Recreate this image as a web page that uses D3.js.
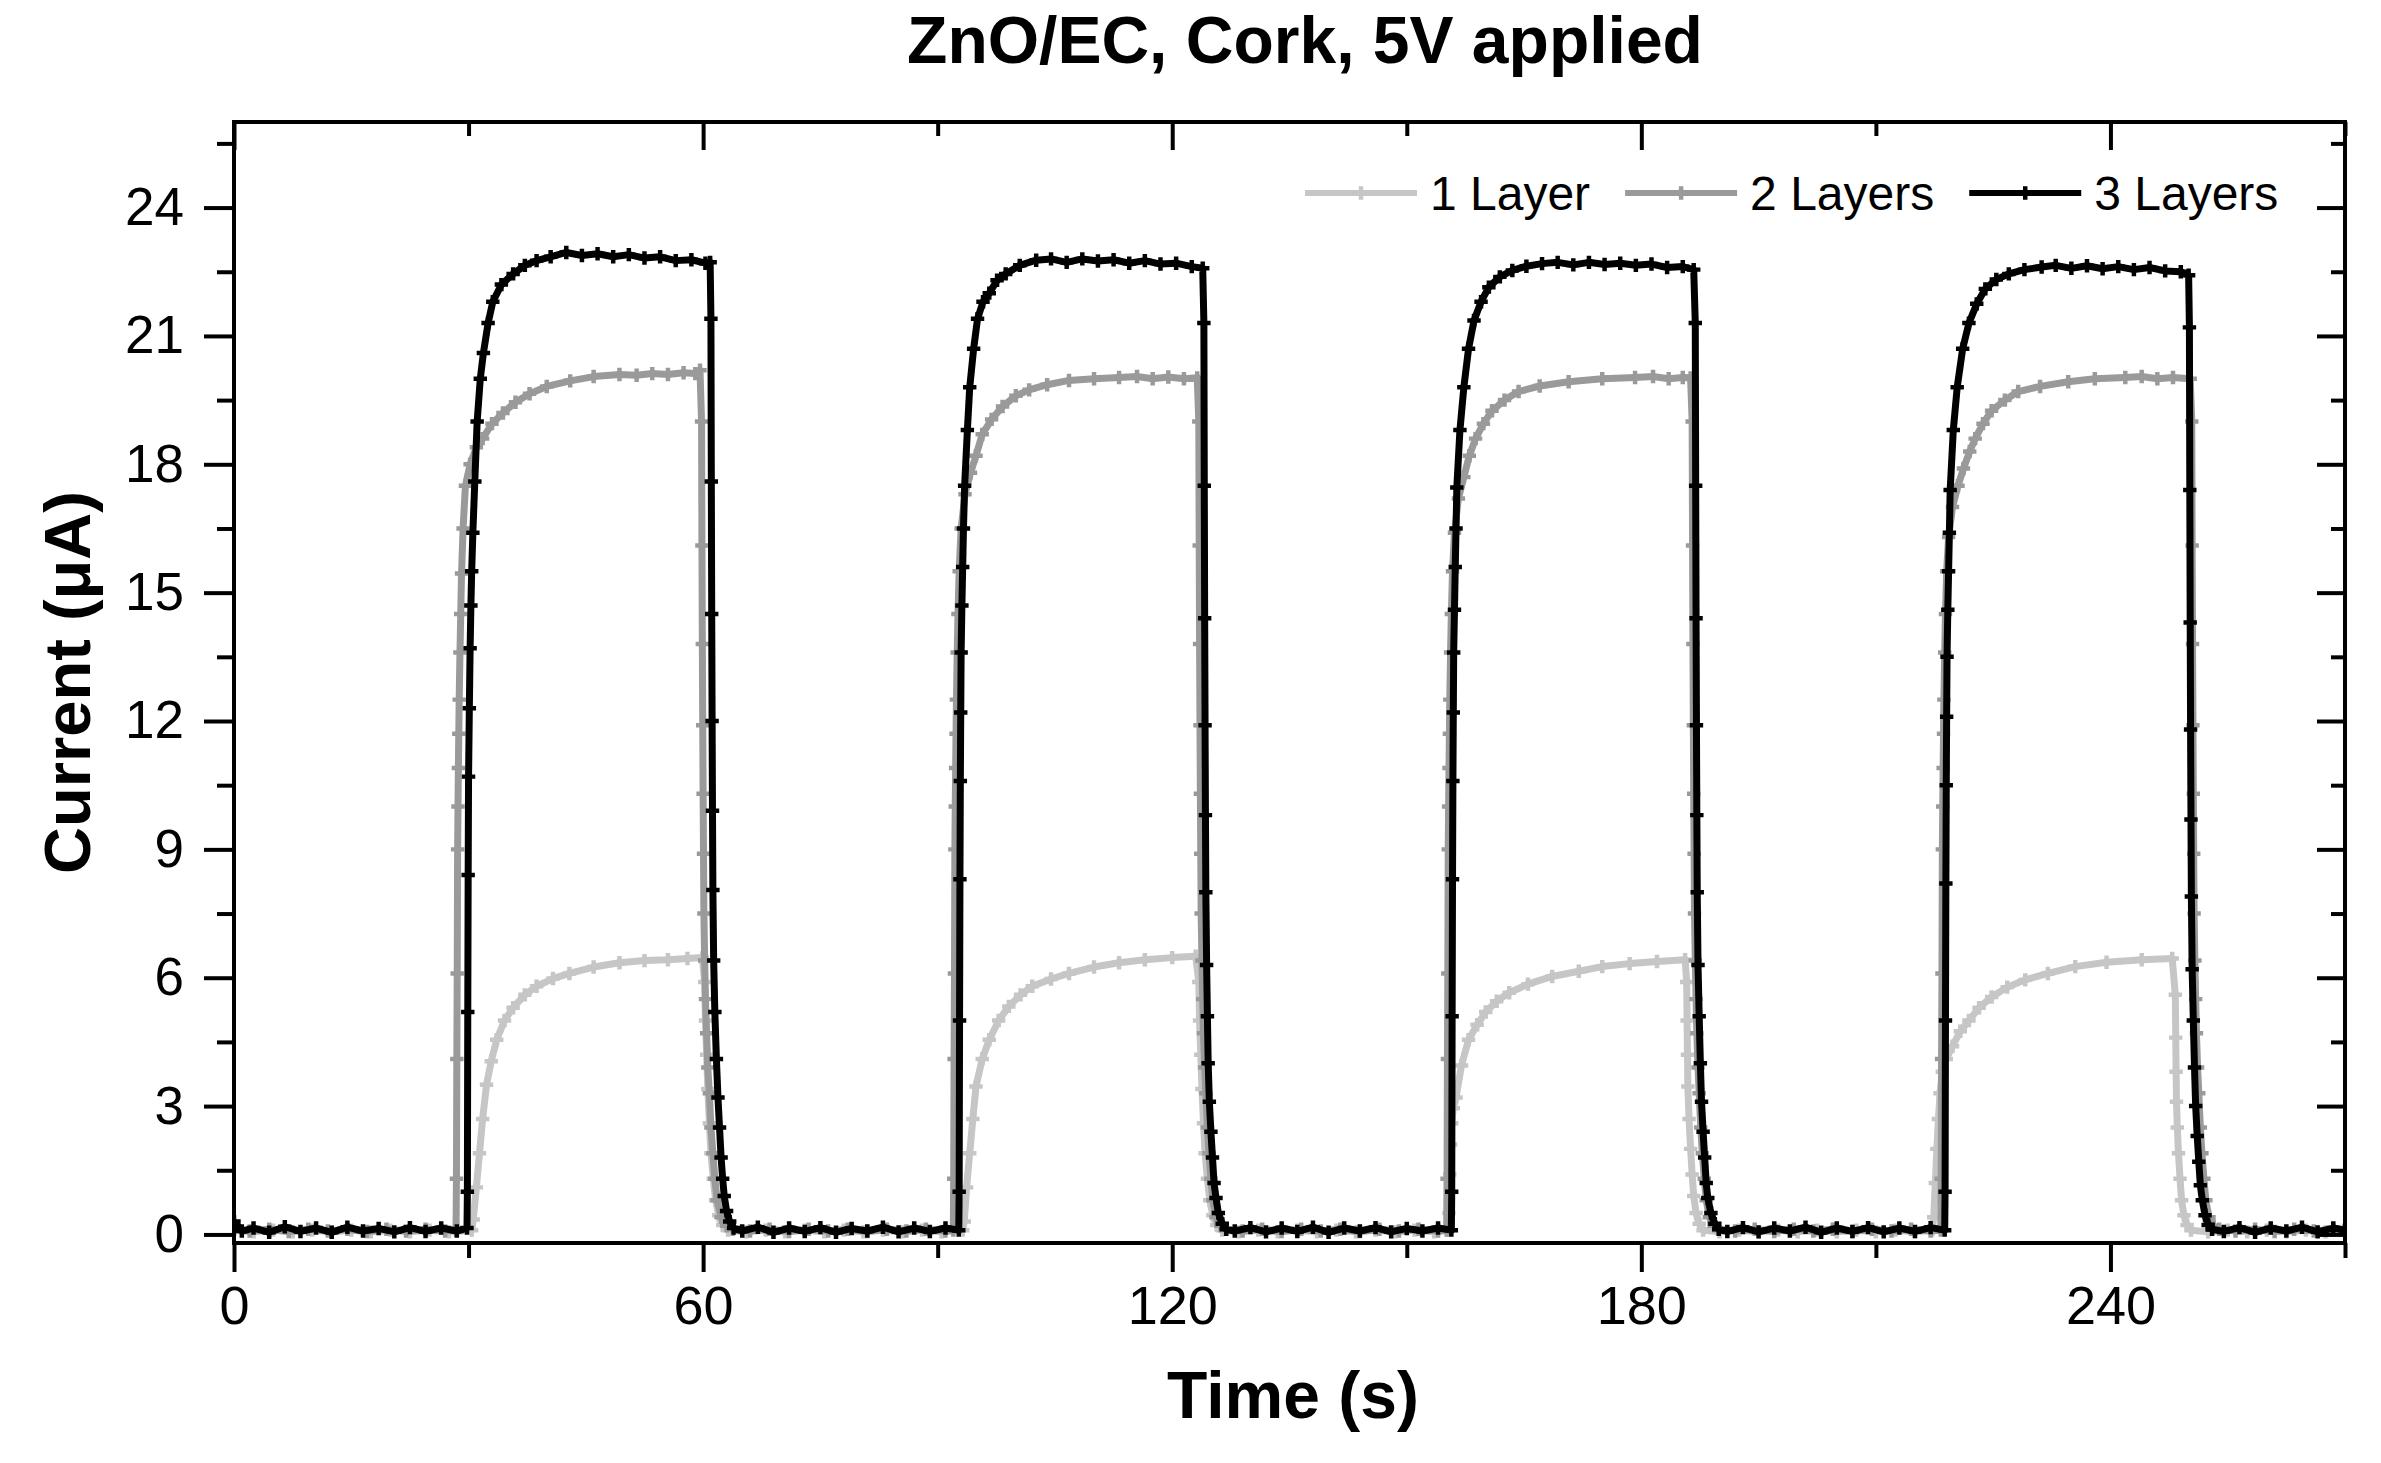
<!DOCTYPE html>
<html>
<head>
<meta charset="utf-8">
<script src="https://cdn.jsdelivr.net/npm/d3@7"></script>
<style>
  body { margin: 0; background: #fff; }
  text { font-family: "Liberation Sans", Arial, sans-serif; fill: #000; }
</style>
</head>
<body>
<script>
// Series names as in the legend
const seriesNames = ["1 Layer", "2 Layers", "3 Layers"];
const seriesColors = ["#c6c6c6", "#9a9a9a", "#000000"];

const xTicks = [0, 60, 120, 180, 240];
const yTicks = [0, 3, 6, 9, 12, 15, 18, 21, 24];

// [time (s), current (uA)]
const oneLayer = [
  [0,0.1],[2.5,0.06],[5,0.1],[7.5,0.06],[10,0.1],[12.5,0.06],[15,0.1],[17.5,0.06],[20,0.1],[22.5,0.06],[25,0.1],[27.5,0.06],[30.4,0.1],
  [30.6,0.35],[31.0,1.1],[31.4,1.9],[31.8,2.7],[32.3,3.5],[32.9,4.05],[33.6,4.55],[34.6,5.0],[35.7,5.3],[37.2,5.6],[38.7,5.8],[40.8,5.98],[42.9,6.1],[46,6.25],[49.3,6.35],[52.5,6.4],[55.5,6.42],[58,6.45],[59.9,6.47],
  [60.2,5.9],[60.3,5.0],[60.45,4.2],[60.6,3.4],[60.8,2.6],[61.0,1.9],[61.3,1.3],[61.6,0.8],[62.0,0.45],[62.5,0.22],[63.2,0.1],
  [65.5,0.06],[68,0.1],[70.5,0.06],[73,0.1],[75.5,0.06],[78,0.1],[80.5,0.06],[83,0.1],[85.5,0.06],[88,0.1],[90.5,0.06],[93.2,0.1],
  [93.4,0.3],[93.7,1.1],[94.1,1.9],[94.5,2.7],[94.9,3.46],[95.7,4.1],[96.6,4.55],[97.8,5.0],[99.1,5.33],[100.6,5.6],[102.1,5.8],[104.5,5.97],[106.8,6.1],[110,6.25],[113.2,6.35],[116.5,6.42],[120,6.47],[123.0,6.5],
  [123.4,5.9],[123.5,5.0],[123.65,4.2],[123.8,3.4],[124.0,2.6],[124.2,1.9],[124.5,1.3],[124.8,0.8],[125.2,0.45],[125.7,0.22],[126.4,0.1],
  [128.5,0.06],[131,0.1],[133.5,0.06],[136,0.1],[138.5,0.06],[141,0.1],[143.5,0.06],[146,0.1],[148.5,0.06],[151,0.1],[153.5,0.06],[155.3,0.1],
  [155.4,0.5],[155.5,1.4],[155.6,2.1],[155.75,2.6],[155.95,2.95],[156.3,3.2],[157.0,3.95],[157.9,4.55],[159.0,4.9],[160.1,5.2],[161.5,5.45],[163.1,5.65],[165.5,5.85],[168.6,6.03],[172,6.15],[175.0,6.26],[178.5,6.33],[182,6.38],[185.6,6.42],
  [185.8,5.9],[185.85,5.0],[185.9,4.2],[185.95,3.46],[186.1,2.7],[186.3,2.0],[186.5,1.4],[186.7,0.9],[187.0,0.5],[187.4,0.25],[187.9,0.1],
  [190,0.06],[192.5,0.1],[195,0.06],[197.5,0.1],[200,0.06],[202.5,0.1],[205,0.06],[207.5,0.1],[210,0.06],[212.5,0.1],[215,0.06],[217.2,0.1],
  [217.4,0.4],[217.6,1.2],[217.8,2.0],[218.0,2.7],[218.2,3.3],[218.5,3.8],[219.0,4.1],[219.8,4.4],[220.8,4.75],[221.9,5.0],[223.2,5.3],[224.8,5.55],[226.8,5.78],[229.1,5.95],[232,6.1],[235.5,6.26],[239.5,6.36],[244.0,6.42],[247.9,6.45],
  [248.3,5.6],[248.35,4.6],[248.4,3.8],[248.45,3.1],[248.55,2.5],[248.7,1.9],[248.9,1.3],[249.1,0.8],[249.4,0.45],[249.8,0.22],[250.3,0.1],
  [252.5,0.06],[255,0.1],[257.5,0.06],[260,0.1],[262.5,0.06],[265,0.1],[267.5,0.06],[270,0.1]
];

const twoLayers = [
  [0,0.12],[2,0.08],[4.5,0.12],[7,0.07],[9.5,0.12],[12,0.08],[14.5,0.12],[17,0.07],[19.5,0.12],[22,0.08],[24.5,0.12],[27,0.08],[28.4,0.1],
  [28.45,1.3],[28.5,4.1],[28.55,6.1],[28.6,9.0],[28.65,10.0],[28.7,10.9],[28.75,11.7],[28.8,12.5],[28.9,13.6],[29.0,14.5],[29.1,15.45],[29.3,16.5],[29.6,17.5],[30.2,18.0],[31.0,18.4],[31.8,18.6],[33.0,18.95],[34.4,19.2],[36,19.45],[37.8,19.65],[40,19.82],[43,19.95],[46,20.05],[49.3,20.1],
  [51.5,20.08],[53.5,20.12],[55.5,20.1],[57.5,20.14],[59.0,20.12],[59.6,20.2],
  [59.8,19.0],[59.85,16.1],[59.9,13.8],[59.95,11.9],[60.0,10.3],[60.05,8.9],[60.1,7.5],[60.2,6.4],[60.3,5.5],[60.45,4.7],[60.6,3.9],[60.8,3.3],[61.0,2.5],[61.25,1.9],[61.5,1.3],[61.8,0.8],[62.3,0.4],[63.0,0.2],[63.8,0.12],
  [66,0.08],[68.5,0.12],[71,0.07],[73.5,0.12],[76,0.08],[78.5,0.12],[81,0.07],[83.5,0.12],[86,0.08],[88.5,0.12],[91,0.08],[92.0,0.1],
  [92.05,1.3],[92.1,4.1],[92.15,6.1],[92.2,9.0],[92.25,10.0],[92.3,10.9],[92.35,11.7],[92.4,12.5],[92.5,13.6],[92.6,14.5],[92.75,15.5],[93.0,16.5],[93.5,17.3],[94.2,17.8],[94.9,18.2],[95.7,18.7],[96.9,19.05],[98.3,19.35],[100,19.6],[101.7,19.74],[104,19.86],[106.8,19.96],[110,20.0],[113.2,20.03],
  [115.5,20.05],[117.5,20.0],[119.5,20.04],[121.5,20.0],[123.2,20.02],
  [123.4,19.0],[123.45,16.1],[123.5,13.8],[123.55,11.9],[123.6,10.3],[123.65,8.9],[123.7,7.5],[123.8,6.4],[123.9,5.5],[124.0,4.7],[124.15,3.9],[124.3,3.3],[124.5,2.5],[124.7,1.9],[124.95,1.3],[125.2,0.8],[125.6,0.4],[126.2,0.2],[126.9,0.12],
  [129,0.08],[131.5,0.12],[134,0.07],[136.5,0.12],[139,0.08],[141.5,0.12],[144,0.07],[146.5,0.12],[149,0.08],[151.5,0.12],[154,0.08],[155.1,0.1],
  [155.15,1.3],[155.2,4.1],[155.25,6.1],[155.3,9.0],[155.35,10.0],[155.4,10.9],[155.45,11.7],[155.5,12.5],[155.6,13.6],[155.7,14.5],[155.85,15.5],[156.1,16.4],[156.6,17.2],[157.3,17.7],[158.0,18.2],[158.8,18.6],[159.8,18.95],[160.9,19.25],[162.5,19.5],[164.3,19.7],[167,19.83],[170.7,19.93],[175,20.0],[179.2,20.03],
  [181.5,20.05],[183.5,20.0],[185.3,20.03],[186.3,20.02],
  [186.5,19.0],[186.55,16.1],[186.6,13.8],[186.65,11.9],[186.7,10.3],[186.75,8.9],[186.8,7.5],[186.9,6.4],[187.0,5.5],[187.1,4.7],[187.25,3.9],[187.4,3.3],[187.6,2.5],[187.8,1.9],[188.05,1.3],[188.3,0.8],[188.7,0.4],[189.3,0.2],[189.9,0.12],
  [192,0.08],[194.5,0.12],[197,0.07],[199.5,0.12],[202,0.08],[204.5,0.12],[207,0.07],[209.5,0.12],[212,0.08],[214.5,0.12],[217,0.08],[218.3,0.1],
  [218.35,1.3],[218.4,4.1],[218.45,6.1],[218.5,9.0],[218.55,10.0],[218.6,10.9],[218.65,11.7],[218.7,12.5],[218.8,13.6],[218.9,14.5],[219.05,15.5],[219.3,16.3],[219.8,17.0],[220.5,17.5],[221.2,17.9],[222.0,18.3],[222.7,18.6],[223.7,18.95],[224.8,19.25],[226.5,19.5],[228.2,19.7],[231,19.82],[234.6,19.93],[238,20.0],[241.9,20.03],
  [244,20.05],[246,20.0],[248,20.03],[250.2,20.0],
  [250.4,19.0],[250.45,16.1],[250.5,13.8],[250.55,11.9],[250.6,10.3],[250.65,8.9],[250.7,7.5],[250.8,6.4],[250.9,5.5],[251.0,4.7],[251.15,3.9],[251.3,3.3],[251.5,2.5],[251.7,1.9],[251.95,1.3],[252.2,0.8],[252.6,0.4],[253.2,0.2],[253.9,0.12],
  [256,0.08],[258.5,0.12],[261,0.07],[263.5,0.12],[266,0.08],[268.5,0.12],[270,0.1]
];

const threeLayers = [
  [0,0.3],[1,0.08],[2.5,0.15],[4.5,0.05],[6.5,0.18],[8.5,0.07],[10.5,0.15],[12.5,0.05],[14.5,0.17],[16.5,0.08],[18.5,0.14],[20.5,0.06],[22.5,0.16],[24.5,0.07],[26.5,0.15],[28.5,0.08],[29.8,0.15],
  [29.85,1.0],[29.9,5.2],[29.95,8.4],[30.0,10.7],[30.1,12.3],[30.2,13.7],[30.3,14.7],[30.4,15.5],[30.55,16.4],[30.8,17.6],[31.1,19.0],[31.5,20.0],[31.9,20.6],[32.5,21.3],[33.1,21.8],[34.2,22.2],[35.7,22.45],[37.2,22.65],[38.7,22.76],
  [40.5,22.85],[42.5,22.95],[44.5,22.88],[46.5,22.92],[48.5,22.85],[50.5,22.9],[52.5,22.82],[54.5,22.85],[56.5,22.76],[58.5,22.78],[60.3,22.7],[60.9,22.72],
  [61.0,21.4],[61.05,17.6],[61.1,14.5],[61.15,12.0],[61.2,9.9],[61.25,8.05],[61.35,6.4],[61.5,5.2],[61.7,4.1],[61.9,3.2],[62.1,2.5],[62.3,1.8],[62.5,1.3],[62.7,0.9],[63.0,0.55],[63.4,0.3],[63.9,0.15],
  [65,0.08],[67,0.17],[69,0.05],[71,0.15],[73,0.07],[75,0.16],[77,0.05],[79,0.14],[81,0.08],[83,0.17],[85,0.06],[87,0.15],[89,0.07],[91,0.15],[92.7,0.1],
  [92.75,1.0],[92.8,5.0],[92.85,8.3],[92.9,10.6],[92.95,12.2],[93.0,13.6],[93.1,14.7],[93.2,15.6],[93.3,16.5],[93.45,17.5],[93.8,18.8],[94.1,19.8],[94.6,20.7],[95.1,21.4],[95.8,21.8],[96.6,22.0],[97.6,22.3],[98.7,22.45],[100.5,22.65],[102.6,22.77],
  [104.5,22.8],[106.5,22.72],[108.5,22.8],[110.5,22.75],[112.5,22.78],[114.5,22.7],[116.5,22.76],[118.5,22.68],[120.5,22.7],[122.5,22.62],[123.9,22.58],
  [124.05,21.3],[124.1,17.5],[124.15,14.4],[124.2,11.9],[124.25,9.8],[124.3,8.0],[124.4,6.3],[124.5,5.1],[124.6,4.0],[124.75,3.1],[124.95,2.4],[125.15,1.8],[125.35,1.2],[125.6,0.85],[125.9,0.5],[126.4,0.25],[126.9,0.12],
  [128,0.08],[130,0.16],[132,0.06],[134,0.15],[136,0.07],[138,0.17],[140,0.05],[142,0.15],[144,0.08],[146,0.16],[148,0.06],[150,0.14],[152,0.08],[154,0.15],[155.7,0.1],
  [155.75,1.0],[155.8,5.1],[155.85,8.3],[155.9,10.6],[155.95,12.2],[156.0,13.6],[156.1,14.6],[156.2,15.6],[156.3,16.5],[156.4,17.46],[156.8,18.8],[157.3,19.8],[157.9,20.7],[158.6,21.36],[159.5,21.8],[160.5,22.14],[161.9,22.38],[163.5,22.53],[165.3,22.63],[167.3,22.69],
  [169.3,22.72],[171.3,22.66],[173.3,22.72],[175.3,22.67],[177.3,22.7],[179.3,22.65],[181.3,22.68],[183.3,22.6],[185.3,22.62],[186.7,22.55],
  [186.9,21.3],[186.95,17.5],[187.0,14.4],[187.05,11.9],[187.1,9.8],[187.15,8.0],[187.25,6.3],[187.4,5.1],[187.55,4.0],[187.7,3.1],[187.9,2.4],[188.1,1.8],[188.3,1.2],[188.5,0.85],[188.9,0.5],[189.4,0.25],[189.9,0.12],
  [191,0.07],[193,0.16],[195,0.06],[197,0.15],[199,0.08],[201,0.17],[203,0.05],[205,0.15],[207,0.07],[209,0.16],[211,0.06],[213,0.15],[215,0.07],[217,0.16],[218.8,0.1],
  [218.85,1.0],[218.9,5.0],[218.95,8.2],[219.0,10.5],[219.05,12.1],[219.1,13.5],[219.2,14.6],[219.3,15.5],[219.4,16.4],[219.5,17.4],[219.9,18.8],[220.4,19.8],[221.1,20.7],[221.9,21.3],[222.9,21.75],[224.0,22.1],[225.4,22.32],[227.0,22.45],[229,22.55],[231.2,22.61],
  [233,22.65],[235,22.58],[237,22.64],[239,22.57],[241,22.62],[243,22.55],[245,22.6],[247,22.52],[249,22.5],[250.0,22.42],
  [250.1,21.2],[250.15,17.4],[250.2,14.3],[250.25,11.8],[250.3,9.7],[250.35,7.9],[250.45,6.2],[250.6,5.0],[250.75,3.9],[250.9,3.0],[251.1,2.3],[251.3,1.7],[251.5,1.15],[251.75,0.8],[252.1,0.45],[252.5,0.22],[253.0,0.12],
  [254.5,0.07],[256.5,0.16],[258.5,0.05],[260.5,0.15],[262.5,0.08],[264.5,0.17],[266.5,0.06],[268.5,0.15],[270,0.1]
];

const allSeries = [oneLayer, twoLayers, threeLayers];

const W = 2381, H = 1463;
const plotLeft = 234, plotRight = 2345, plotTop = 122, plotBottom = 1243;

const svg = d3.select("body").append("svg")
    .attr("width", W)
    .attr("height", H);

const x = d3.scaleLinear().domain([0, 270]).range([plotLeft, plotRight]);
const y = d3.scaleLinear().domain([-0.2, 26]).range([plotBottom, plotTop]);

svg.append("defs").append("clipPath")
    .attr("id", "plotClip")
    .append("rect")
    .attr("x", plotLeft).attr("y", plotTop)
    .attr("width", plotRight - plotLeft).attr("height", plotBottom - plotTop);

// data lines + markers, 1 layer at the back
const line = d3.line().x(d => x(d[0])).y(d => y(d[1]));
const cross = d3.symbol().type(d3.symbolCross).size(100);

const plot = svg.append("g").attr("clip-path", "url(#plotClip)");
allSeries.forEach((data, i) => {
    const g = plot.append("g").attr("class", "series");
    g.append("path")
        .datum(data)
        .attr("d", line)
        .attr("fill", "none")
        .attr("stroke", seriesColors[i])
        .attr("stroke-width", 7)
        .attr("stroke-linejoin", "round");
    g.selectAll("path.pt")
        .data(data)
        .enter()
        .append("path")
        .attr("class", "pt")
        .attr("d", cross)
        .attr("transform", d => "translate(" + x(d[0]) + "," + y(d[1]) + ")")
        .attr("fill", seriesColors[i]);
});

// axes: bottom/left ticks outward, top/right ticks inward
const xMinor = d3.range(30, 271, 60);
const yMinor = d3.range(1.5, 26, 3);

svg.append("g")
    .attr("transform", "translate(0," + plotBottom + ")")
    .call(d3.axisBottom(x).tickValues(xTicks).tickSize(29).tickPadding(14).tickFormat(d3.format("d")))
    .call(g => g.select(".domain").remove())
    .call(g => g.selectAll("text").attr("font-size", 54));
svg.append("g")
    .attr("transform", "translate(0," + plotBottom + ")")
    .call(d3.axisBottom(x).tickValues(xMinor).tickSize(15).tickFormat(""))
    .call(g => g.select(".domain").remove());

svg.append("g")
    .attr("transform", "translate(" + plotLeft + ",0)")
    .call(d3.axisLeft(y).tickValues(yTicks).tickSize(30).tickPadding(20))
    .call(g => g.select(".domain").remove())
    .call(g => g.selectAll("text").attr("font-size", 53));
svg.append("g")
    .attr("transform", "translate(" + plotLeft + ",0)")
    .call(d3.axisLeft(y).tickValues(yMinor).tickSize(17).tickFormat(""))
    .call(g => g.select(".domain").remove());

svg.append("g")
    .attr("transform", "translate(0," + plotTop + ")")
    .call(d3.axisTop(x).tickValues(xTicks).tickSize(-28).tickFormat(""))
    .call(g => g.select(".domain").remove());
svg.append("g")
    .attr("transform", "translate(0," + plotTop + ")")
    .call(d3.axisTop(x).tickValues(xMinor).tickSize(-14).tickFormat(""))
    .call(g => g.select(".domain").remove());

svg.append("g")
    .attr("transform", "translate(" + plotRight + ",0)")
    .call(d3.axisRight(y).tickValues(yTicks).tickSize(-28).tickFormat(""))
    .call(g => g.select(".domain").remove());
svg.append("g")
    .attr("transform", "translate(" + plotRight + ",0)")
    .call(d3.axisRight(y).tickValues(yMinor).tickSize(-14).tickFormat(""))
    .call(g => g.select(".domain").remove());

svg.selectAll(".tick line").attr("stroke", "#000").attr("stroke-width", 4);
svg.selectAll(".tick text").attr("fill", "#000").attr("font-family", "'Liberation Sans', Arial, sans-serif");

// frame
svg.append("rect")
    .attr("x", plotLeft).attr("y", plotTop)
    .attr("width", plotRight - plotLeft).attr("height", plotBottom - plotTop)
    .attr("fill", "none")
    .attr("stroke", "#000")
    .attr("stroke-width", 4);

// titles
svg.append("text")
    .attr("x", 1305).attr("y", 63)
    .attr("text-anchor", "middle")
    .attr("font-size", 66)
    .attr("font-weight", "bold")
    .text("ZnO/EC, Cork, 5V applied");

svg.append("text")
    .attr("x", 1293).attr("y", 1418)
    .attr("text-anchor", "middle")
    .attr("font-size", 66)
    .attr("font-weight", "bold")
    .text("Time (s)");

svg.append("text")
    .attr("transform", "translate(90," + ((plotTop + plotBottom) / 2) + ") rotate(-90)")
    .attr("text-anchor", "middle")
    .attr("font-size", 65)
    .attr("font-weight", "bold")
    .text("Current (μA)");

// legend, laid out left to right
const legend = svg.append("g").attr("class", "legend");
let lx = 1305;
const ly = 193;
seriesNames.forEach((name, i) => {
    legend.append("line")
        .attr("x1", lx).attr("x2", lx + 112)
        .attr("y1", ly).attr("y2", ly)
        .attr("stroke", seriesColors[i])
        .attr("stroke-width", 6);
    legend.append("path")
        .attr("d", cross)
        .attr("transform", "translate(" + (lx + 56) + "," + ly + ")")
        .attr("fill", seriesColors[i]);
    const t = legend.append("text")
        .attr("x", lx + 125).attr("y", 210)
        .attr("font-size", 48)
        .text(name);
    lx += 125 + t.node().getComputedTextLength() + 35;
});
</script>
</body>
</html>
